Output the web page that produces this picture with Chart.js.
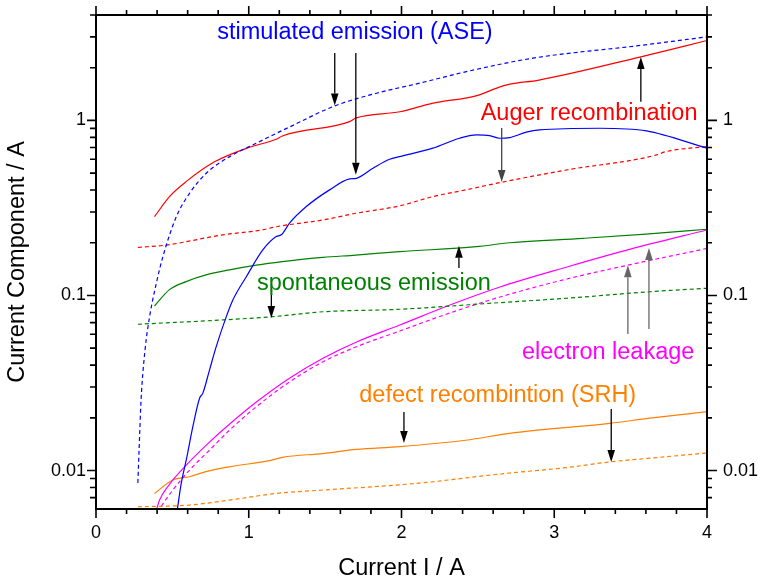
<!DOCTYPE html>
<html>
<head>
<meta charset="utf-8">
<script src="https://cdn.jsdelivr.net/npm/chart.js@4/dist/chart.umd.min.js"></script>
<style>
  html, body { margin: 0; padding: 0; background: #fff; }
  canvas { display: block; }
</style>
</head>
<body>
<canvas id="c" width="761" height="583"></canvas>
<script>
// ---------------- data ----------------
const aseTotalX = [0.274, 0.282, 0.295, 0.321, 0.351, 0.395, 0.438, 0.526, 0.613, 0.722, 0.875, 1.05, 1.268, 1.563, 1.836, 2.119, 2.425, 2.86, 3.567, 4.0];
const aseTotalY = [0.0085, 0.0131, 0.0253, 0.0488, 0.0757, 0.1175, 0.1667, 0.282, 0.384, 0.499, 0.621, 0.741, 0.918, 1.21, 1.43, 1.632, 1.90, 2.267, 2.683, 3.0];

const aseActiveX = [0.53, 0.558, 0.591, 0.634, 0.678, 0.699, 0.743, 0.787, 0.853, 0.896, 0.984, 1.092, 1.18, 1.213, 1.267, 1.377, 1.529, 1.66, 1.704, 1.813, 1.922, 1.988, 2.205, 2.38, 2.49, 2.577, 2.642, 2.708, 2.817, 2.904, 3.297, 3.603, 4.0];
const aseActiveY = [0.0058, 0.00845, 0.0115, 0.0178, 0.0259, 0.0276, 0.0375, 0.051, 0.0757, 0.0942, 0.128, 0.182, 0.217, 0.222, 0.259, 0.322, 0.401, 0.463, 0.467, 0.533, 0.60, 0.621, 0.694, 0.791, 0.826, 0.819, 0.791, 0.798, 0.857, 0.883, 0.902, 0.871, 0.694];

const augerTotalX = [0.383, 0.481, 0.59, 0.776, 1.0, 1.18, 1.22, 1.66, 1.70, 1.99, 2.2, 2.5, 2.64, 2.71, 2.9, 3.56, 4.0];
const augerTotalY = [0.282, 0.367, 0.447, 0.58, 0.70, 0.78, 0.815, 0.984, 1.03, 1.12, 1.25, 1.39, 1.55, 1.61, 1.70, 2.30, 2.86];

const augerActiveX = [0.274, 0.46, 0.83, 1.09, 1.18, 1.485, 1.704, 1.988, 2.205, 2.42, 2.642, 3.08, 3.67, 3.73, 4.0];
const augerActiveY = [0.188, 0.194, 0.222, 0.237, 0.247, 0.27, 0.295, 0.325, 0.367, 0.401, 0.441, 0.521, 0.635, 0.663, 0.709];

const spontTotalX = [0.383, 0.481, 0.59, 0.72, 0.874, 1.05, 1.22, 1.485, 1.70, 1.988, 2.49, 2.708, 3.19, 3.6, 4.0];
const spontTotalY = [0.0871, 0.108, 0.12, 0.131, 0.14, 0.149, 0.156, 0.165, 0.170, 0.178, 0.19, 0.2, 0.212, 0.224, 0.239];

const spontActiveX = [0.274, 0.83, 1.158, 1.485, 1.988, 2.642, 3.08, 3.625, 4.0];
const spontActiveY = [0.0685, 0.0725, 0.0757, 0.0807, 0.0834, 0.091, 0.0964, 0.105, 0.11];

const leakTotalX = [0.392, 0.416, 0.482, 0.591, 0.722, 0.875, 1.05, 1.269, 1.489, 1.706, 1.989, 2.317, 2.645, 3.084, 3.504, 4.0];
const leakTotalY = [0.0058, 0.00678, 0.00837, 0.01075, 0.01398, 0.01844, 0.02462, 0.03379, 0.04394, 0.05425, 0.06783, 0.08825, 0.1118, 0.1455, 0.1844, 0.2367];

const leakActiveX = [0.401, 0.503, 0.613, 0.744, 0.875, 1.05, 1.269, 1.487, 1.706, 1.989, 2.317, 2.645, 3.082, 3.519, 4.0];
const leakActiveY = [0.0058, 0.00774, 0.01007, 0.0131, 0.01703, 0.02315, 0.03218, 0.04184, 0.05097, 0.06268, 0.07943, 0.09803, 0.1242, 0.1514, 0.1856];

const srhTotalX = [0.383, 0.503, 0.612, 0.72, 0.874, 1.158, 1.22, 1.485, 1.704, 1.988, 2.42, 2.708, 3.363, 3.625, 4.0];
const srhTotalY = [0.0074, 0.00883, 0.00922, 0.00985, 0.0105, 0.0115, 0.0119, 0.0125, 0.0132, 0.0137, 0.0149, 0.0163, 0.0186, 0.0199, 0.0217];

const srhActiveX = [0.274, 0.612, 0.874, 1.18, 1.485, 1.813, 2.12, 2.642, 3.08, 3.363, 3.69, 4.0];
const srhActiveY = [0.00621, 0.00635, 0.00678, 0.0074, 0.00774, 0.00808, 0.00848, 0.00955, 0.0104, 0.0112, 0.0119, 0.0126];

// tick values / labels
const xTickValues = [0, 1, 2, 3, 4];
const xMinorTicks = [0.2, 0.4, 0.6, 0.8, 1.2, 1.4, 1.6, 1.8, 2.2, 2.4, 2.6, 2.8, 3.2, 3.4, 3.6, 3.8];
const yTickValues = [0.01, 0.1, 1];
const yMinorTicks = [0.007, 0.008, 0.009, 0.02, 0.03, 0.04, 0.05, 0.06, 0.07, 0.08, 0.09, 0.2, 0.3, 0.4, 0.5, 0.6, 0.7, 0.8, 0.9, 2, 3, 4];

// annotation labels (anchored in data coordinates)
const labelTexts = ['stimulated emission (ASE)', 'Auger recombination', 'spontaneous emission', 'electron leakage', 'defect recombintion (SRH)'];
const labelX = [1.695, 3.228, 1.819, 3.353, 2.63];
const labelY = [2.91, 1.007, 0.107, 0.0432, 0.02454];

// arrows (x, start value, tip value)
const arrowX = [1.563, 1.701, 3.567, 2.656, 2.376, 1.148, 3.482, 3.62, 2.016, 3.373];
const arrowFrom = [2.43, 2.43, 1.276, 0.906, 0.1436, 0.1007, 0.0603, 0.0644, 0.0216, 0.02246];
const arrowTo = [1.215, 0.489, 2.306, 0.445, 0.192, 0.0744, 0.149, 0.187, 0.01436, 0.01119];

// ---------------- styles ----------------
const FONT = '"Liberation Sans", Arial, Helvetica, sans-serif';
const C_BLUE = '#0000ff', C_RED = '#ff0000', C_GREEN = '#008000', C_MAG = '#ff00ff', C_ORA = '#ff8000';
const labelColors = [C_BLUE, C_RED, C_GREEN, C_MAG, C_ORA];
const arrowColors = ['#000', '#000', '#000', '#444', '#000', '#000', '#666', '#666', '#000', '#000'];

function pts(xs, ys) { return xs.map((x, i) => ({ x: x, y: ys[i] })); }
function ds(label, xs, ys, color, dashed) {
  return {
    label: label, data: pts(xs, ys), borderColor: color, backgroundColor: color,
    borderWidth: 1.2, borderDash: dashed ? [4, 3] : [], pointRadius: 0,
    cubicInterpolationMode: 'monotone', fill: false, xAxisID: 'x', yAxisID: 'y'
  };
}

const datasets = [
  ds('ASE total', aseTotalX, aseTotalY, C_BLUE, true),
  ds('ASE active', aseActiveX, aseActiveY, C_BLUE, false),
  ds('Auger total', augerTotalX, augerTotalY, C_RED, false),
  ds('Auger active', augerActiveX, augerActiveY, C_RED, true),
  ds('Spont total', spontTotalX, spontTotalY, C_GREEN, false),
  ds('Spont active', spontActiveX, spontActiveY, C_GREEN, true),
  ds('Leak total', leakTotalX, leakTotalY, C_MAG, false),
  ds('Leak active', leakActiveX, leakActiveY, C_MAG, true),
  ds('SRH total', srhTotalX, srhTotalY, C_ORA, false),
  ds('SRH active', srhActiveX, srhActiveY, C_ORA, true)
];

const framePlugin = {
  id: 'frameTicks',
  afterDatasetsDraw(chart) {
    const ctx = chart.ctx;
    const a = chart.chartArea;
    const xs = chart.scales.x, ys = chart.scales.y;
    ctx.save();
    // annotation arrows
    arrowX.forEach((xv, i) => {
      const px = xs.getPixelForValue(xv);
      const p0 = ys.getPixelForValue(arrowFrom[i]);
      const p1 = ys.getPixelForValue(arrowTo[i]);
      const dir = p1 > p0 ? 1 : -1;
      const headL = 12, headW = 3.8;
      ctx.strokeStyle = arrowColors[i];
      ctx.fillStyle = arrowColors[i];
      ctx.lineWidth = 1.3;
      ctx.beginPath();
      ctx.moveTo(px, p0);
      ctx.lineTo(px, p1 - dir * headL);
      ctx.stroke();
      ctx.beginPath();
      ctx.moveTo(px, p1);
      ctx.lineTo(px - headW, p1 - dir * headL);
      ctx.lineTo(px + headW, p1 - dir * headL);
      ctx.closePath();
      ctx.fill();
    });
    // annotation texts
    ctx.font = '23.5px ' + FONT;
    ctx.textAlign = 'center';
    ctx.textBaseline = 'alphabetic';
    labelTexts.forEach((t, i) => {
      ctx.fillStyle = labelColors[i];
      ctx.fillText(t, xs.getPixelForValue(labelX[i]), ys.getPixelForValue(labelY[i]));
    });
    // frame
    ctx.strokeStyle = '#000';
    ctx.lineWidth = 2;
    ctx.strokeRect(a.left, a.top, a.right - a.left, a.bottom - a.top);
    // ticks
    ctx.lineWidth = 1.6;
    ctx.beginPath();
    const xt = (v, len) => {
      const p = xs.getPixelForValue(v);
      ctx.moveTo(p, a.bottom); ctx.lineTo(p, a.bottom + len);
      ctx.moveTo(p, a.top); ctx.lineTo(p, a.top - len);
    };
    xTickValues.forEach(v => xt(v, 9));
    xMinorTicks.forEach(v => xt(v, 5));
    const yt = (v, lenL, lenR) => {
      const p = ys.getPixelForValue(v);
      ctx.moveTo(a.left, p); ctx.lineTo(a.left - lenL, p);
      ctx.moveTo(a.right, p); ctx.lineTo(a.right + lenR, p);
    };
    yTickValues.forEach(v => yt(v, 9, 10));
    yMinorTicks.forEach(v => yt(v, 6, 5));
    ctx.stroke();
    ctx.restore();
  }
};

const Y_MIN = 0.00603, Y_MAX = 4.0;
const tickFont = { family: FONT, size: 18 };
const titleFont = { family: FONT, size: 23.5, lineHeight: 1.2 };
const noPad = s => { s.paddingTop = 0; s.paddingBottom = 0; s.paddingLeft = 0; s.paddingRight = 0; };

new Chart(document.getElementById('c'), {
  type: 'line',
  data: { datasets: datasets },
  options: {
    responsive: false,
    animation: false,
    devicePixelRatio: 1,
    layout: { padding: 0 },
    plugins: { legend: { display: false }, tooltip: { enabled: false } },
    scales: {
      x: {
        type: 'linear', position: 'bottom', min: 0, max: 4,
        afterBuildTicks: s => { s.ticks = xTickValues.map(v => ({ value: v })); },
        ticks: { font: tickFont, color: '#000', padding: 13.5, maxRotation: 0, autoSkip: false,
                 callback: v => String(v) },
        grid: { display: false, drawTicks: false },
        border: { display: false },
        title: { display: true, text: 'Current I / A', color: '#000', font: titleFont, padding: { top: 0, bottom: 0 } },
        afterFit: s => { s.height = 74; noPad(s); }
      },
      xTop: {
        type: 'linear', position: 'top', min: 0, max: 4,
        ticks: { display: false },
        grid: { display: false, drawTicks: false },
        border: { display: false },
        afterFit: s => { s.height = 15; noPad(s); }
      },
      y: {
        type: 'logarithmic', position: 'left', min: Y_MIN, max: Y_MAX,
        afterBuildTicks: s => { s.ticks = yTickValues.map(v => ({ value: v })); },
        ticks: { font: tickFont, color: '#000', padding: 10, autoSkip: false, callback: v => String(v) },
        grid: { display: false, drawTicks: false },
        border: { display: false },
        title: { display: true, text: 'Current Component / A', color: '#000', font: titleFont, padding: { top: 3, bottom: 0 } },
        afterFit: s => { s.width = 96; noPad(s); }
      },
      yRight: {
        type: 'logarithmic', position: 'right', min: Y_MIN, max: Y_MAX,
        afterBuildTicks: s => { s.ticks = yTickValues.map(v => ({ value: v })); },
        ticks: { font: tickFont, color: '#000', padding: 16, autoSkip: false, callback: v => String(v) },
        grid: { display: false, drawTicks: false },
        border: { display: false },
        afterFit: s => { s.width = 54; noPad(s); }
      }
    }
  },
  plugins: [framePlugin]
});
</script>
</body>
</html>
